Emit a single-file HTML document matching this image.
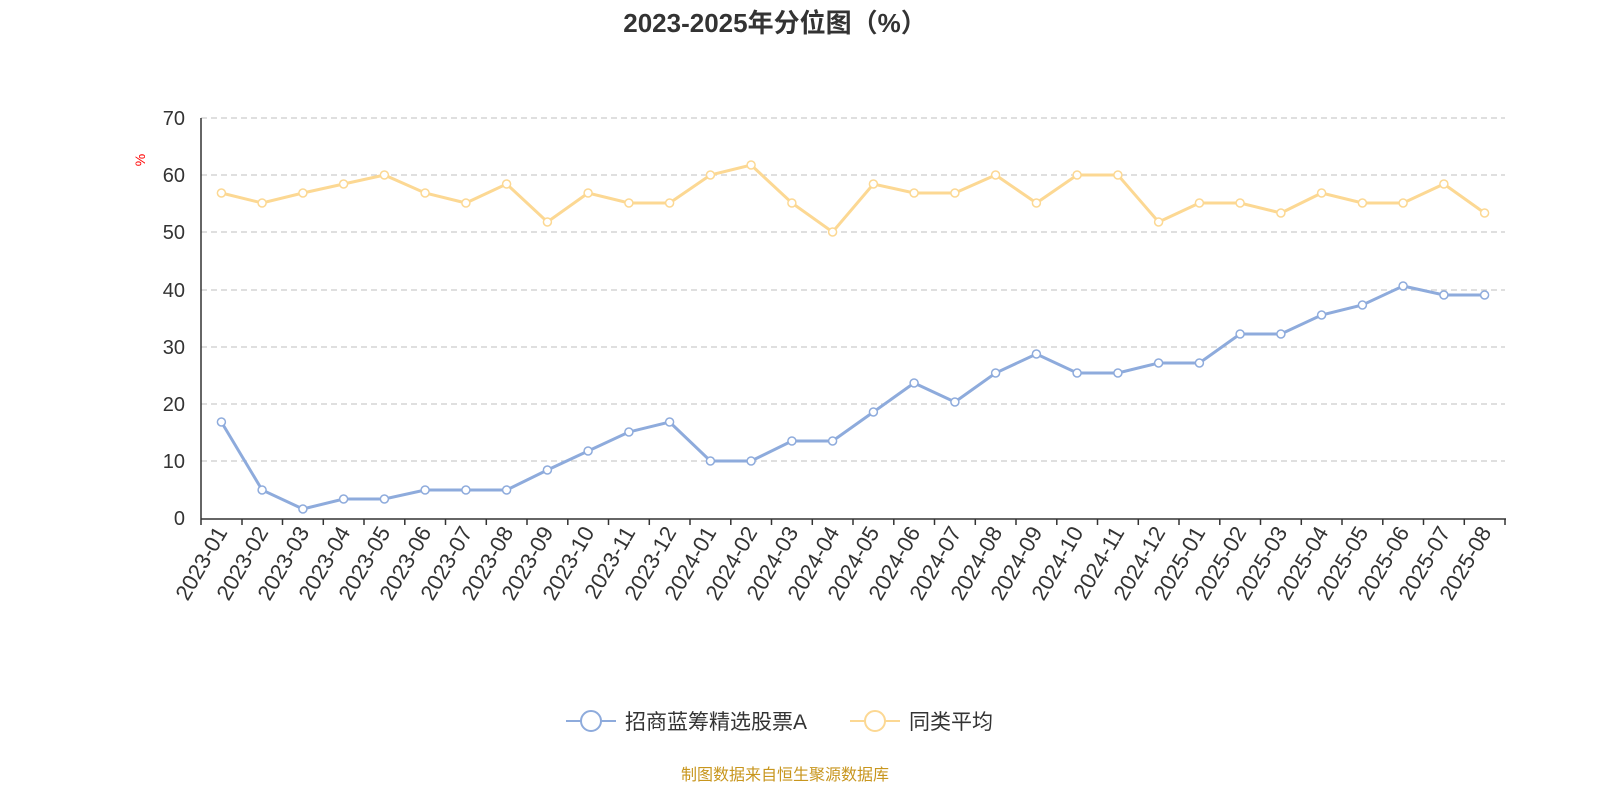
<!DOCTYPE html>
<html><head><meta charset="utf-8"><style>body{margin:0;background:#fff}svg{display:block}</style></head><body>
<svg width="1600" height="800" xmlns="http://www.w3.org/2000/svg" font-family="Liberation Sans, Noto Sans CJK SC, sans-serif">
<defs>
<marker id="mb" markerWidth="12" markerHeight="12" refX="6" refY="6" markerUnits="userSpaceOnUse"><circle cx="6" cy="6" r="4" fill="#fff" stroke="#8eabdc" stroke-width="1.5"/></marker>
<marker id="mo" markerWidth="12" markerHeight="12" refX="6" refY="6" markerUnits="userSpaceOnUse"><circle cx="6" cy="6" r="4" fill="#fff" stroke="#fcd893" stroke-width="1.5"/></marker>
</defs>
<text x="775" y="32" text-anchor="middle" font-size="26" font-weight="bold" fill="#333">2023-2025年分位图（%）</text>
<text x="145" y="160" fill="red" font-size="14" transform="rotate(-90 145 160)" text-anchor="middle">%</text>
<g stroke="#ccc" stroke-dasharray="6,4" stroke-width="1.3">
<line x1="201" x2="1505" y1="118" y2="118"/><line x1="201" x2="1505" y1="175" y2="175"/><line x1="201" x2="1505" y1="232" y2="232"/><line x1="201" x2="1505" y1="290" y2="290"/><line x1="201" x2="1505" y1="347" y2="347"/><line x1="201" x2="1505" y1="404" y2="404"/><line x1="201" x2="1505" y1="461" y2="461"/>
</g>
<g font-size="20" fill="#333" text-anchor="end">
<text x="185" y="125">70</text><text x="185" y="182">60</text><text x="185" y="239">50</text><text x="185" y="297">40</text><text x="185" y="354">30</text><text x="185" y="411">20</text><text x="185" y="468">10</text><text x="185" y="525">0</text>
</g>
<line x1="201" y1="118" x2="201" y2="519" stroke="#333" stroke-width="1.5"/>
<line x1="201" y1="519" x2="1506" y2="519" stroke="#333" stroke-width="1.5"/>
<path stroke="#333" stroke-width="1.5" d="M201 519v6M242 519v6M282.5 519v6M323.3 519v6M364 519v6M404.8 519v6M445.5 519v6M486.3 519v6M527 519v6M567.8 519v6M608.5 519v6M649.3 519v6M690 519v6M730.8 519v6M771.5 519v6M812.3 519v6M853 519v6M893.8 519v6M934.5 519v6M975.3 519v6M1016 519v6M1056.8 519v6M1097.5 519v6M1138.3 519v6M1179 519v6M1219.8 519v6M1260.5 519v6M1301.3 519v6M1342 519v6M1382.8 519v6M1423.5 519v6M1464.3 519v6M1505 519v6"/>
<g font-size="22" fill="#333" text-anchor="end">
<text transform="translate(228,532) rotate(-60)">2023-01</text>
<text transform="translate(269,532) rotate(-60)">2023-02</text>
<text transform="translate(310,532) rotate(-60)">2023-03</text>
<text transform="translate(351,532) rotate(-60)">2023-04</text>
<text transform="translate(391,532) rotate(-60)">2023-05</text>
<text transform="translate(432,532) rotate(-60)">2023-06</text>
<text transform="translate(473,532) rotate(-60)">2023-07</text>
<text transform="translate(514,532) rotate(-60)">2023-08</text>
<text transform="translate(554,532) rotate(-60)">2023-09</text>
<text transform="translate(595,532) rotate(-60)">2023-10</text>
<text transform="translate(636,532) rotate(-60)">2023-11</text>
<text transform="translate(677,532) rotate(-60)">2023-12</text>
<text transform="translate(717,532) rotate(-60)">2024-01</text>
<text transform="translate(758,532) rotate(-60)">2024-02</text>
<text transform="translate(799,532) rotate(-60)">2024-03</text>
<text transform="translate(840,532) rotate(-60)">2024-04</text>
<text transform="translate(880,532) rotate(-60)">2024-05</text>
<text transform="translate(921,532) rotate(-60)">2024-06</text>
<text transform="translate(962,532) rotate(-60)">2024-07</text>
<text transform="translate(1003,532) rotate(-60)">2024-08</text>
<text transform="translate(1043,532) rotate(-60)">2024-09</text>
<text transform="translate(1084,532) rotate(-60)">2024-10</text>
<text transform="translate(1125,532) rotate(-60)">2024-11</text>
<text transform="translate(1166,532) rotate(-60)">2024-12</text>
<text transform="translate(1206,532) rotate(-60)">2025-01</text>
<text transform="translate(1247,532) rotate(-60)">2025-02</text>
<text transform="translate(1288,532) rotate(-60)">2025-03</text>
<text transform="translate(1329,532) rotate(-60)">2025-04</text>
<text transform="translate(1369,532) rotate(-60)">2025-05</text>
<text transform="translate(1410,532) rotate(-60)">2025-06</text>
<text transform="translate(1451,532) rotate(-60)">2025-07</text>
<text transform="translate(1492,532) rotate(-60)">2025-08</text>
</g>
<polyline fill="none" stroke="#fcd893" stroke-width="3" marker-start="url(#mo)" marker-mid="url(#mo)" marker-end="url(#mo)" points="221.4,193 262.1,203 302.9,193 343.6,184 384.4,175 425.1,193 465.9,203 506.6,184 547.4,222 588.1,193 628.9,203 669.6,203 710.4,175 751.1,165 791.9,203 832.6,232 873.4,184 914.1,193 954.9,193 995.6,175 1036.4,203 1077.1,175 1117.9,175 1158.6,222 1199.4,203 1240.1,203 1280.9,213 1321.6,193 1362.4,203 1403.1,203 1443.9,184 1484.6,213"/>
<polyline fill="none" stroke="#8eabdc" stroke-width="3" marker-start="url(#mb)" marker-mid="url(#mb)" marker-end="url(#mb)" points="221.4,422 262.1,490 302.9,509 343.6,499 384.4,499 425.1,490 465.9,490 506.6,490 547.4,470 588.1,451 628.9,432 669.6,422 710.4,461 751.1,461 791.9,441 832.6,441 873.4,412 914.1,383 954.9,402 995.6,373 1036.4,354 1077.1,373 1117.9,373 1158.6,363 1199.4,363 1240.1,334 1280.9,334 1321.6,315 1362.4,305 1403.1,286 1443.9,295 1484.6,295"/>
<line x1="566" y1="721" x2="616" y2="721" stroke="#8eabdc" stroke-width="2"/><circle cx="591" cy="721" r="10" fill="#fff" stroke="#8eabdc" stroke-width="2"/>
<text x="625" y="729" font-size="21" fill="#333">招商蓝筹精选股票A</text>
<line x1="850" y1="721" x2="900" y2="721" stroke="#fcd893" stroke-width="2"/><circle cx="875" cy="721" r="10" fill="#fff" stroke="#fcd893" stroke-width="2"/>
<text x="909" y="729" font-size="21" fill="#333">同类平均</text>
<text x="785" y="780" text-anchor="middle" font-size="16" fill="#c8961e">制图数据来自恒生聚源数据库</text>
</svg>
</body></html>
